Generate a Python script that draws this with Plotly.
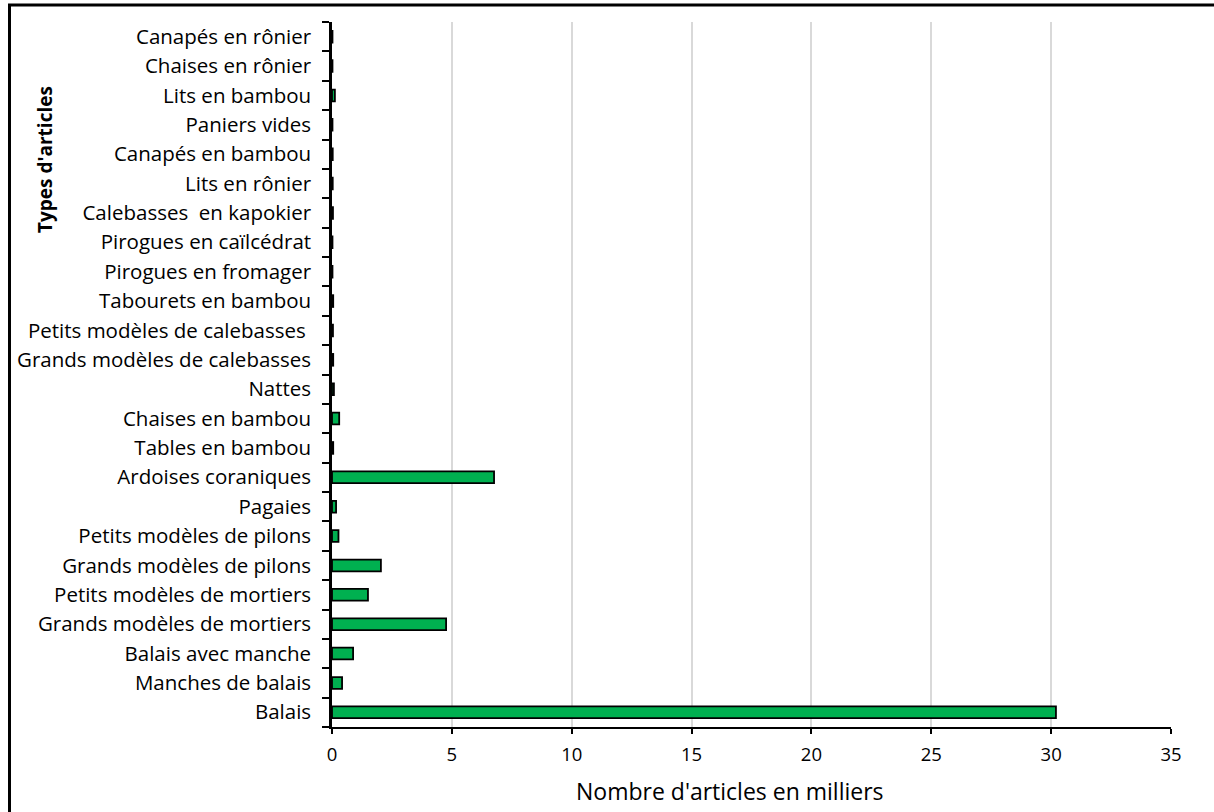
import plotly.graph_objects as go

categories = [
    "Balais", "Manches de balais", "Balais avec manche", "Grands modèles de mortiers",
    "Petits modèles de mortiers", "Grands modèles de pilons", "Petits modèles de pilons",
    "Pagaies", "Ardoises coraniques", "Tables en bambou", "Chaises en bambou", "Nattes",
    "Grands modèles de calebasses", "Petits modèles de calebasses ", "Tabourets en bambou",
    "Pirogues en fromager", "Pirogues en caïlcédrat", "Calebasses  en kapokier",
    "Lits en rônier", "Canapés en bambou", "Paniers vides", "Lits en bambou",
    "Chaises en rônier", "Canapés en rônier",
]
values = [
    30.2, 0.42, 0.88, 4.76, 1.5, 2.04, 0.27, 0.17, 6.76, 0.05, 0.3, 0.08,
    0.05, 0.04, 0.05, 0.02, 0.02, 0.04, 0.03, 0.03, 0.02, 0.12, 0.02, 0.02,
]
x_ticks = [0, 5, 10, 15, 20, 25, 30, 35]

FONT = "Open Sans"

fig = go.Figure(go.Bar(
    y=categories, x=values, orientation="h", width=0.4,
    marker=dict(color="#00B050", line=dict(color="black", width=1.8)),
))

L, R, T, B = 332, 43, 22, 85
W, H = 1214, 812
pw, ph = W - L - R, H - T - B

def px_x(px):
    return (px - L) / pw

def px_y(py):
    return (H - B - py) / ph

fig.update_layout(
    width=W, height=H, margin=dict(l=L, r=R, t=T, b=B),
    plot_bgcolor="white", paper_bgcolor="white", showlegend=False,
    font=dict(family=FONT, size=19, color="black"),
    xaxis=dict(range=[0, 35], tickvals=x_ticks, showgrid=True, gridcolor="#d9d9d9",
               gridwidth=1.5, showline=True, linecolor="black", linewidth=2,
               ticks="outside", ticklen=5, tickcolor="black", tickwidth=1.5,
               zeroline=False, tickfont=dict(size=18.5), ticklabelstandoff=5),
    yaxis=dict(type="category", categoryorder="array", categoryarray=categories,
               showline=True, linecolor="black", linewidth=2.5,
               ticks="outside", ticklen=7, tickcolor="black", tickwidth=1.5,
               tickson="boundaries", showgrid=False, tickfont=dict(size=20.5),
               ticklabelstandoff=14),
    annotations=[
        dict(text="<b>Types d'articles</b>", textangle=-90, xref="paper", yref="paper",
             x=px_x(45), y=px_y(160), xanchor="center", yanchor="middle",
             showarrow=False, font=dict(size=19, family=FONT)),
        dict(text="Nombre d'articles en milliers", xref="paper", yref="paper",
             x=px_x(730), y=px_y(791), xanchor="center", yanchor="middle",
             showarrow=False, font=dict(size=23, family=FONT)),
    ],
    shapes=[
        dict(type="rect", xref="paper", yref="paper", x0=px_x(9.5), x1=px_x(1300),
             y0=px_y(850), y1=px_y(5), line=dict(color="black", width=3),
             fillcolor="rgba(0,0,0,0)", layer="above"),
    ],
)

fig.write_html("out.html", config={"displayModeBar": False},
               post_script="document.body.style.margin='0';")
